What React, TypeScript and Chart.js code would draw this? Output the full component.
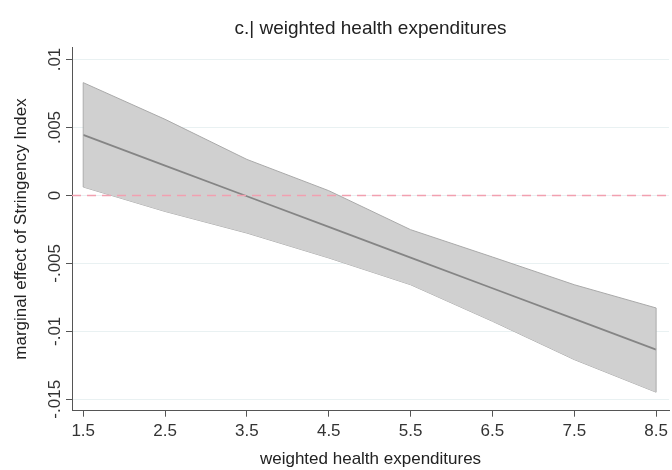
import { useEffect, useRef } from "react";
import { Chart, registerables } from "chart.js";

Chart.register(...registerables);

const FONT = "'Liberation Sans', Arial, sans-serif";

// at() points of the margins plot
const xValues = [1.5, 2.5, 3.5, 4.5, 5.5, 6.5, 7.5, 8.5];
const effect = [0.00446, 0.0022, -0.00006, -0.00232, -0.00457, -0.00683, -0.00909, -0.01135];
const upperCI = [0.0083, 0.0056, 0.00265, 0.00035, -0.00252, -0.00453, -0.00657, -0.00828];
const lowerCI = [0.00062, -0.00118, -0.00277, -0.0046, -0.00657, -0.00926, -0.01208, -0.01448];

const xTicks = [1.5, 2.5, 3.5, 4.5, 5.5, 6.5, 7.5, 8.5];
const yTicks = [0.01, 0.005, 0, -0.005, -0.01, -0.015];
const yTickLabels = [".01", ".005", "0", "-.005", "-.01", "-.015"];

const pts = (ys: number[]) => xValues.map((x, i) => ({ x, y: ys[i] }));

// dashed reference line at 0 and the closing edges of the CI band
const extras = {
  id: "extras",
  afterDatasetsDraw(chart: any) {
    const { ctx, chartArea } = chart;
    const xs = chart.scales.x;
    const ys = chart.scales.y;
    ctx.save();
    ctx.strokeStyle = "#a9a9a9";
    ctx.lineWidth = 1;
    [0, xValues.length - 1].forEach((i) => {
      const px = xs.getPixelForValue(xValues[i]);
      ctx.beginPath();
      ctx.moveTo(px, ys.getPixelForValue(upperCI[i]));
      ctx.lineTo(px, ys.getPixelForValue(lowerCI[i]));
      ctx.stroke();
    });
    const y = ys.getPixelForValue(0);
    ctx.strokeStyle = "#f1a0b0";
    ctx.lineWidth = 1.4;
    ctx.setLineDash([9, 6]);
    ctx.beginPath();
    ctx.moveTo(chartArea.left, y);
    ctx.lineTo(chartArea.right, y);
    ctx.stroke();
    ctx.restore();
  },
};

export default function App() {
  const canvasRef = useRef<HTMLCanvasElement>(null);

  useEffect(() => {
    document.body.style.margin = "0";
    if (!canvasRef.current) return;

    const chart = new Chart(canvasRef.current, {
      type: "line",
      data: {
        datasets: [
          {
            label: "effect",
            data: pts(effect),
            borderColor: "#858585",
            borderWidth: 1.8,
            pointRadius: 0,
            fill: false,
            tension: 0,
          },
          {
            label: "upper",
            data: pts(upperCI),
            borderColor: "#a9a9a9",
            borderWidth: 1,
            backgroundColor: "#d0d0d0",
            fill: "+1",
            pointRadius: 0,
            tension: 0,
          },
          {
            label: "lower",
            data: pts(lowerCI),
            borderColor: "#a9a9a9",
            borderWidth: 1,
            pointRadius: 0,
            fill: false,
            tension: 0,
          },
        ],
      },
      options: {
        animation: false,
        responsive: true,
        maintainAspectRatio: false,
        layout: { padding: 0 },
        plugins: {
          legend: { display: false },
          tooltip: { enabled: false },
          title: {
            display: true,
            text: "c.| weighted health expenditures",
            fullSize: false,
            color: "#222",
            font: { family: FONT, size: 19, weight: "normal" },
            padding: { top: 17.6, bottom: 6.9 },
          },
        },
        scales: {
          x: {
            type: "linear",
            min: 1.363,
            max: 8.658,
            afterBuildTicks: (s: any) => {
              s.ticks = xTicks.map((v) => ({ value: v }));
            },
            afterFit: (s: any) => {
              s.height = 59.3;
            },
            ticks: {
              color: "#333",
              font: { family: FONT, size: 17 },
              padding: 4,
              maxRotation: 0,
              callback: (v: any) => Number(v).toFixed(1),
            },
            grid: { display: true, drawOnChartArea: false, tickLength: 6, tickColor: "#555", tickWidth: 1 },
            border: { display: true, color: "#555", width: 1 },
            title: {
              display: true,
              text: "weighted health expenditures",
              color: "#222",
              font: { family: FONT, size: 17 },
              padding: { top: 5, bottom: 0 },
            },
          },
          y: {
            type: "linear",
            min: -0.01584,
            max: 0.0109,
            afterBuildTicks: (s: any) => {
              s.ticks = yTicks.map((v) => ({ value: v }));
            },
            afterFit: (s: any) => {
              s.width = 72;
            },
            ticks: {
              color: "#333",
              font: { family: FONT, size: 17 },
              minRotation: 90,
              maxRotation: 90,
              crossAlign: "center",
              padding: -8.5,
              callback: (v: any) => {
                const i = yTicks.findIndex((t) => Math.abs(t - Number(v)) < 1e-9);
                return i >= 0 ? yTickLabels[i] : "";
              },
            },
            grid: { color: "#e9f1f2", lineWidth: 1, tickLength: 6, tickColor: "#555" },
            border: { display: true, color: "#555", width: 1 },
            title: {
              display: true,
              text: "marginal effect of Stringency Index",
              color: "#222",
              font: { family: FONT, size: 17 },
              padding: { top: 11.3, bottom: 0 },
            },
          },
        },
      },
      plugins: [extras],
    });

    return () => chart.destroy();
  }, []);

  return (
    <div style={{ position: "relative", width: 672, height: 470, background: "#fff" }}>
      <canvas ref={canvasRef} />
    </div>
  );
}
